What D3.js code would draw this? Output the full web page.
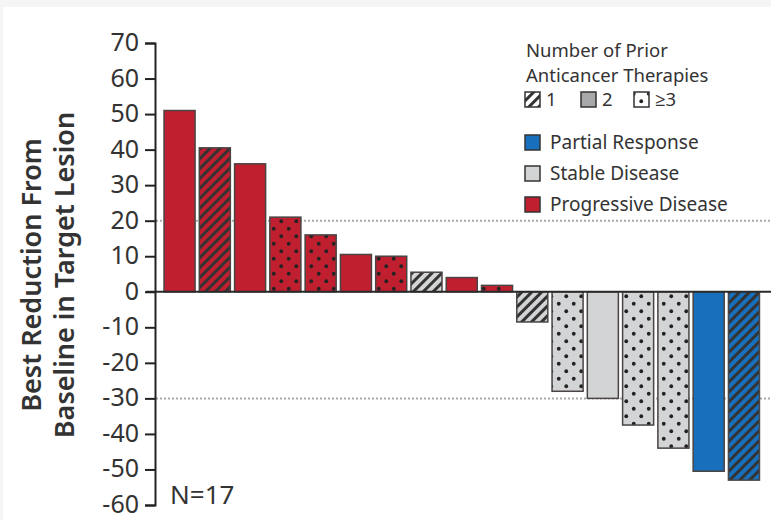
<!DOCTYPE html>
<html>
<head>
<meta charset="utf-8">
<script src="https://cdn.jsdelivr.net/npm/d3@7"></script>
<style>
  body { margin: 0; background: #f5f5f5; }
  svg { display: block; font-family: "Noto Sans", "Open Sans", sans-serif; }
</style>
</head>
<body>
<div id="chart"></div>
<script>
// best change from baseline per patient, sorted
var values = [51, 40.5, 36, 21, 16, 10.5, 10, 5.5, 4, 1.8, -8.5, -28, -30, -37.5, -44, -50.5, -53];
var response = ["PD","PD","PD","PD","PD","PD","PD","SD","PD","PD","SD","SD","SD","SD","SD","PR","PR"];
var priorTherapies = [2, 1, 2, 3, 3, 2, 3, 1, 2, 3, 1, 3, 2, 3, 3, 2, 1];
var yTicks = [70, 60, 50, 40, 30, 20, 10, 0, -10, -20, -30, -40, -50, -60];
var refLines = [20, -30];
var responseNames = ["Partial Response", "Stable Disease", "Progressive Disease"];
var responseKeys = ["PR", "SD", "PD"];
var therapyLabels = ["1", "2", "\u22653"];

var colors = { PR: "#1870bd", SD: "#d3d4d6", PD: "#c01f2f" };

var width = 771, height = 520;

var svg = d3.select("#chart").append("svg")
	.attr("width", width)
	.attr("height", height);

// white panel, leaving the thin grey frame at top/left
svg.append("rect")
	.attr("x", 3).attr("y", 7)
	.attr("width", width - 3).attr("height", height - 7)
	.attr("fill", "#fff");

var defs = svg.append("defs");

// hatch + dot patterns, one per fill colour
function hatch(id, bg) {
	var p = defs.append("pattern")
		.attr("id", id)
		.attr("patternUnits", "userSpaceOnUse")
		.attr("width", 7).attr("height", 7)
		.attr("patternTransform", "rotate(45)");
	p.append("rect").attr("width", 7).attr("height", 7).attr("fill", bg);
	p.append("rect").attr("x", 0).attr("width", 3).attr("height", 7).attr("fill", "#333");
}
function dots(id, bg) {
	var p = defs.append("pattern")
		.attr("id", id)
		.attr("patternUnits", "userSpaceOnUse")
		.attr("width", 15).attr("height", 15);
	p.append("rect").attr("width", 15).attr("height", 15).attr("fill", bg);
	p.append("circle").attr("cx", 3.75).attr("cy", 3.75).attr("r", 1.9).attr("fill", "#222");
	p.append("circle").attr("cx", 11.25).attr("cy", 11.25).attr("r", 1.9).attr("fill", "#222");
}
responseKeys.forEach(function(k) {
	hatch("hatch-" + k, colors[k]);
	dots("dots-" + k, colors[k]);
});
hatch("hatch-legend", "#fff");
dots("dots-legend", "#fff");

function barFill(i) {
	var k = response[i];
	if (priorTherapies[i] == 1) return "url(#hatch-" + k + ")";
	if (priorTherapies[i] >= 3) return "url(#dots-" + k + ")";
	return colors[k];
}

var x = d3.scaleBand()
	.domain(d3.range(values.length))
	.range([160.5, 763])
	.paddingInner(0.12)
	.paddingOuter(0.1);

var y = d3.scaleLinear()
	.domain([-60, 70])
	.range([505, 43]);

// dotted reference lines at +20 / -30
svg.selectAll(".ref")
	.data(refLines)
	.enter().append("line")
	.attr("class", "ref")
	.attr("x1", 156).attr("x2", width)
	.attr("y1", function(d) { return y(d); })
	.attr("y2", function(d) { return y(d); })
	.attr("stroke", "#aaa")
	.attr("stroke-width", 2)
	.attr("stroke-dasharray", "2,2");

// bars
svg.selectAll(".bar")
	.data(values)
	.enter().append("rect")
	.attr("class", "bar")
	.attr("x", function(d, i) { return x(i); })
	.attr("y", function(d) { return y(Math.max(0, d)); })
	.attr("width", x.bandwidth())
	.attr("height", function(d) { return Math.abs(y(d) - y(0)); })
	.attr("fill", function(d, i) { return barFill(i); })
	.attr("stroke", "#4a4444")
	.attr("stroke-width", 1.5);

// zero line
svg.append("line")
	.attr("x1", 146).attr("x2", width)
	.attr("y1", y(0)).attr("y2", y(0))
	.attr("stroke", "#2a2a2a")
	.attr("stroke-width", 2);

// y axis
var yAxis = svg.append("g")
	.attr("transform", "translate(155,0)")
	.call(d3.axisLeft(y)
		.tickValues(yTicks)
		.tickSize(10)
		.tickSizeOuter(10)
		.tickPadding(6)
		.tickFormat(function(d) { return String(d); }));
yAxis.select(".domain").attr("stroke", "#222").attr("stroke-width", 2);
yAxis.selectAll(".tick line").attr("stroke", "#222").attr("stroke-width", 2);
yAxis.selectAll("text")
	.attr("fill", "#333")
	.attr("dy", "0.3em")
	.style("font-size", "25px")
	.style("font-family", "'Noto Sans', sans-serif");

// axis title
var title = svg.append("text")
	.attr("transform", "translate(0,275) rotate(-90)")
	.attr("text-anchor", "middle")
	.attr("fill", "#333")
	.style("font-size", "27px")
	.style("font-weight", "600");
title.append("tspan").attr("x", 0).attr("y", 41).text("Best Reduction From");
title.append("tspan").attr("x", 0).attr("y", 74).text("Baseline in Target Lesion");

svg.append("text")
	.attr("x", 170).attr("y", 504)
	.attr("fill", "#333")
	.style("font-size", "26px")
	.text("N=17");

// legend
var legend = svg.append("g").attr("fill", "#333").style("font-size", "18.5px");
legend.append("text").attr("x", 526).attr("y", 57).text("Number of Prior");
legend.append("text").attr("x", 526).attr("y", 82).text("Anticancer Therapies");

var therapyFills = ["url(#hatch-legend)", "#a7a8aa", "url(#dots-legend)"];
var therapyX = [525, 581, 634];
therapyLabels.forEach(function(t, i) {
	legend.append("rect")
		.attr("x", therapyX[i]).attr("y", 92)
		.attr("width", 15).attr("height", 15)
		.attr("fill", therapyFills[i])
		.attr("stroke", "#333").attr("stroke-width", 1.5);
	legend.append("text")
		.attr("x", therapyX[i] + 21).attr("y", 106)
		.text(t);
});

responseKeys.forEach(function(k, i) {
	var yy = 135 + i * 31;
	legend.append("rect")
		.attr("x", 525).attr("y", yy)
		.attr("width", 15).attr("height", 15)
		.attr("fill", colors[k])
		.attr("stroke", "#333").attr("stroke-width", 1.5);
	legend.append("text")
		.attr("x", 550).attr("y", yy + 14)
		.style("font-size", "19px")
		.text(responseNames[i]);
});
</script>
</body>
</html>
